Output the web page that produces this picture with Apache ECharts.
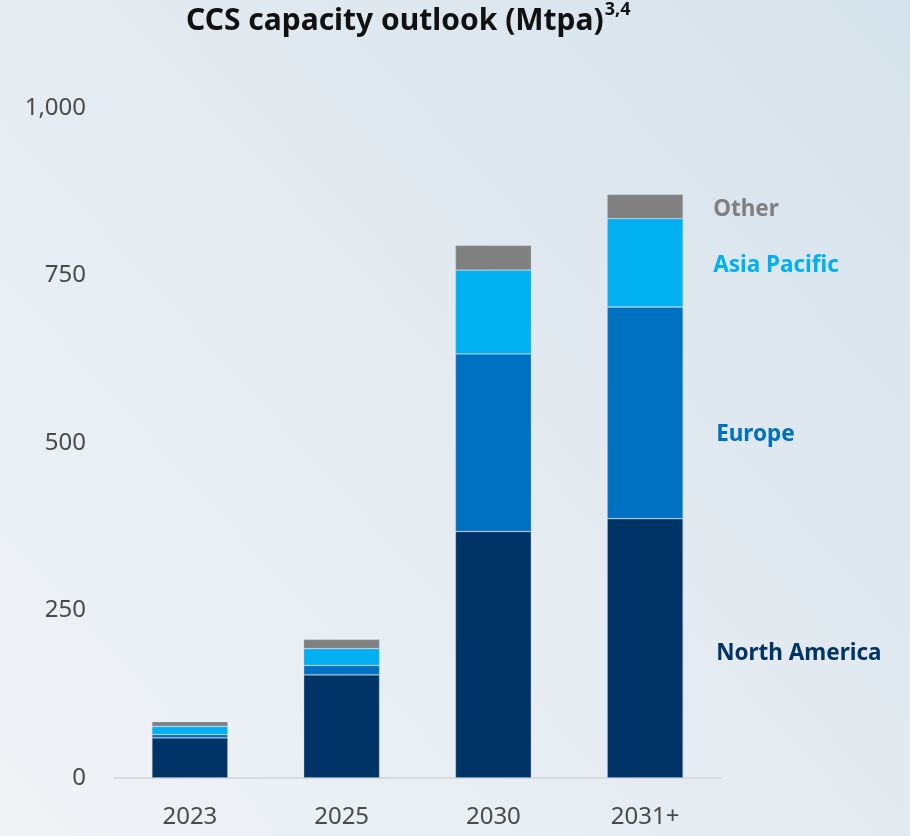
<!DOCTYPE html>
<html>
<head>
<meta charset="utf-8">
<script src="https://cdn.jsdelivr.net/npm/echarts@6/dist/echarts.min.js"></script>
<style>
  html, body { margin: 0; padding: 0; }
  #chart { width: 910px; height: 836px; }
</style>
</head>
<body>
<div id="chart"></div>
<script>
// CCS capacity outlook by region, Mtpa (stacked)
const years = ['2023', '2025', '2030', '2031+'];
const northAmerica = [60, 154, 368, 387];
const europe = [5, 14, 265, 316];
const asiaPacific = [12, 25, 125, 132];
const other = [7, 14, 37, 36];
const yTicks = [0, 250, 500, 750, 1000];

const regions = [
  { name: 'North America', data: northAmerica, color: '#003366', offset: [33, 5] },
  { name: 'Europe', data: europe, color: '#0070c0', offset: [33, 22] },
  { name: 'Asia Pacific', data: asiaPacific, color: '#00b0f0', offset: [30, 3] },
  { name: 'Other', data: other, color: '#808080', offset: [30, 3] }
];

const chart = echarts.init(document.getElementById('chart'));

const series = regions.map(r => ({
  name: r.name,
  type: 'bar',
  stack: 'total',
  barWidth: 76,
  itemStyle: { color: r.color, borderColor: 'rgba(170,195,225,0.4)', borderWidth: 0.8 },
  data: r.data.map((v, i) => {
    if (i !== r.data.length - 1) return v;
    return {
      value: v,
      label: {
        show: true,
        position: 'right',
        distance: 0,
        offset: r.offset,
        formatter: r.name,
        color: r.color,
        fontFamily: 'Noto Sans',
        fontWeight: 'bold',
        fontSize: 22.5
      }
    };
  })
}));

chart.setOption({
  animation: false,
  backgroundColor: new echarts.graphic.LinearGradient(0, 1, 1, 0, [
    { offset: 0, color: '#f0f3f6' },
    { offset: 0.5, color: '#e4ebf1' },
    { offset: 1, color: '#d6e2eb' }
  ]),
  title: {
    left: 186,
    top: 1,
    padding: 0,
    text: '{t|CCS capacity outlook (Mtpa)}{s|3,4}',
    textStyle: {
      rich: {
        t: { fontFamily: 'Noto Sans', fontWeight: 'bold', fontSize: 30, color: '#111111', lineHeight: 40 },
        s: { fontFamily: 'Noto Sans', fontWeight: 'bold', fontSize: 18, color: '#111111', verticalAlign: 'top', lineHeight: 34, padding: [0, 0, 0, 1] }
      }
    }
  },
  grid: { left: 114, right: 189, top: 108, bottom: 58, containLabel: false },
  xAxis: {
    type: 'category',
    data: years,
    axisTick: { show: false },
    axisLine: { lineStyle: { color: '#d9dcdf', width: 2 } },
    axisLabel: { color: '#4a4a4a', fontFamily: 'Noto Sans', fontSize: 24, margin: 27 }
  },
  yAxis: {
    type: 'value',
    min: yTicks[0],
    max: yTicks[yTicks.length - 1],
    interval: 250,
    splitLine: { show: false },
    axisLine: { show: false },
    axisTick: { show: false },
    axisLabel: {
      color: '#4a4a4a',
      fontFamily: 'Noto Sans',
      fontSize: 24,
      margin: 28,
      formatter: v => v.toLocaleString('en-US')
    }
  },
  series: series
});
</script>
</body>
</html>
